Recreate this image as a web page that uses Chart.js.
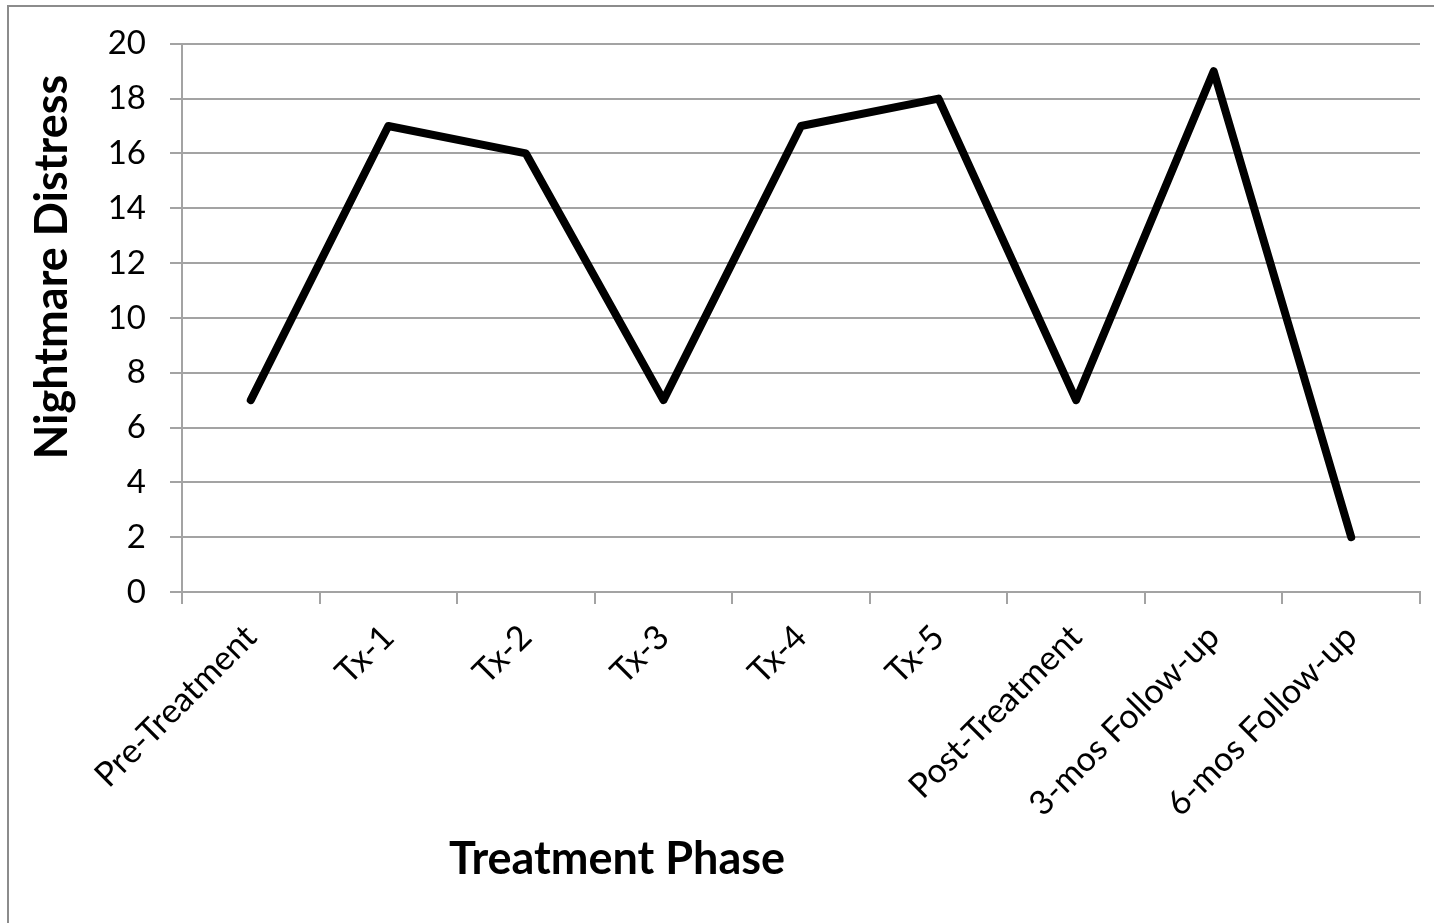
<!DOCTYPE html>
<html>
<head>
<meta charset="utf-8">
<script src="https://cdn.jsdelivr.net/npm/chart.js@4.4.1/dist/chart.umd.min.js"></script>
<style>
  html, body { margin: 0; padding: 0; background: #ffffff; }
  #wrap { width: 1434px; height: 923px; position: relative; }
  canvas { display: block; }
</style>
</head>
<body>
<div id="wrap"><canvas id="c" width="1434" height="923"></canvas></div>
<script>
const categories = ["Pre-Treatment", "Tx-1", "Tx-2", "Tx-3", "Tx-4", "Tx-5", "Post-Treatment", "3-mos Follow-up", "6-mos Follow-up"];
const distressValues = [7, 17, 16, 7, 17, 18, 7, 19, 2];
const yTickValues = [0, 2, 4, 6, 8, 10, 12, 14, 16, 18, 20];
const xAxisTitle = "Treatment Phase";
const yAxisTitle = "Nightmare Distress";

const FONT = "Lato, 'Open Sans', sans-serif";
const GRID = "#a3a3a3";

const decorPlugin = {
  id: 'decor',
  beforeDraw(chart) {
    const ctx = chart.ctx;
    ctx.save();
    ctx.fillStyle = '#ffffff';
    ctx.fillRect(0, 0, chart.width, chart.height);
    ctx.strokeStyle = '#8c8c8c';
    ctx.lineWidth = 2;
    ctx.strokeRect(8, 6, chart.width + 20, chart.height + 20);
    ctx.restore();
  },
  afterDraw(chart) {
    const ctx = chart.ctx;
    ctx.save();
    ctx.fillStyle = '#000000';
    ctx.font = "bold 45px " + FONT;
    ctx.textAlign = 'center';
    ctx.textBaseline = 'middle';
    ctx.fillText(xAxisTitle, 617, 859);
    ctx.translate(52, 267);
    ctx.rotate(-Math.PI / 2);
    ctx.fillText(yAxisTitle, 0, 0);
    ctx.restore();
  }
};

new Chart(document.getElementById('c'), {
  type: 'line',
  data: {
    labels: categories,
    datasets: [{
      data: distressValues,
      borderColor: '#000000',
      backgroundColor: '#000000',
      borderWidth: 8,
      pointRadius: 0,
      pointHoverRadius: 0,
      tension: 0,
      borderJoinStyle: 'round',
      borderCapStyle: 'round',
      fill: false
    }]
  },
  options: {
    responsive: false,
    animation: false,
    events: [],
    layout: { padding: { top: 42, right: 14, left: 0, bottom: 0 } },
    plugins: { legend: { display: false }, tooltip: { enabled: false }, title: { display: false } },
    scales: {
      x: {
        type: 'category',
        offset: true,
        grid: { display: true, drawOnChartArea: false, drawTicks: true, tickLength: 12, offset: true, color: GRID, lineWidth: 2 },
        border: { display: true, color: GRID, width: 2 },
        ticks: {
          autoSkip: false, minRotation: 45, maxRotation: 45, padding: 13,
          color: '#000000', font: { family: FONT, size: 34 }
        },
        afterFit(scale) { scale.height = 331; }
      },
      y: {
        min: 0, max: 20,
        afterBuildTicks(scale) { scale.ticks = yTickValues.map(v => ({ value: v })); },
        grid: { color: GRID, lineWidth: 2, tickLength: 12, drawTicks: true },
        border: { display: true, color: GRID, width: 2 },
        ticks: { padding: 24, color: '#000000', font: { family: FONT, size: 33 } },
        afterFit(scale) { scale.width = 182; }
      }
    }
  },
  plugins: [decorPlugin]
});
</script>
</body>
</html>
